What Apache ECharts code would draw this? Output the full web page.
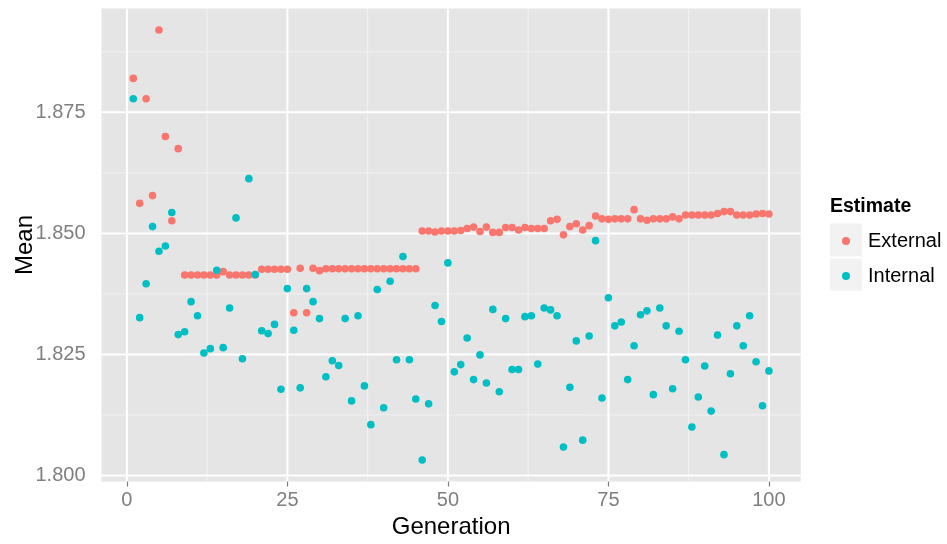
<!DOCTYPE html>
<html>
<head>
<meta charset="utf-8">
<script src="https://cdn.jsdelivr.net/npm/echarts@6/dist/echarts.min.js"></script>
<style>
  html, body { margin: 0; padding: 0; background: #fff; }
  #chart { width: 947px; height: 544px; }
</style>
</head>
<body>
<div id="chart"></div>
<script>
// Generation index for each run
const generation = [
  1, 2, 3, 4, 5, 6, 7, 8, 9, 10, 11, 12, 13, 14, 15, 16, 17, 18, 19, 20,
  21, 22, 23, 24, 25, 26, 27, 28, 29, 30, 31, 32, 33, 34, 35, 36, 37, 38, 39, 40,
  41, 42, 43, 44, 45, 46, 47, 48, 49, 50, 51, 52, 53, 54, 55, 56, 57, 58, 59, 60,
  61, 62, 63, 64, 65, 66, 67, 68, 69, 70, 71, 72, 73, 74, 75, 76, 77, 78, 79, 80,
  81, 82, 83, 84, 85, 86, 87, 88, 89, 90, 91, 92, 93, 94, 95, 96, 97, 98, 99, 100
];

// Mean estimate per generation, external
const externalMean = [
  1.8820, 1.8562, 1.8778, 1.8578, 1.8920, 1.8700, 1.8526, 1.8675, 1.8414, 1.8414,
  1.8414, 1.8414, 1.8414, 1.8414, 1.8421, 1.8414, 1.8414, 1.8414, 1.8414, 1.8414,
  1.8426, 1.8426, 1.8426, 1.8426, 1.8426, 1.8336, 1.8428, 1.8336, 1.8428, 1.8423,
  1.8427, 1.8427, 1.8427, 1.8427, 1.8427, 1.8427, 1.8427, 1.8427, 1.8427, 1.8427,
  1.8427, 1.8427, 1.8427, 1.8427, 1.8427, 1.8505, 1.8505, 1.8503, 1.8505, 1.8505,
  1.8505, 1.8506, 1.8510, 1.8513, 1.8504, 1.8513, 1.8502, 1.8502, 1.8512, 1.8512,
  1.8507, 1.8512, 1.8510, 1.8510, 1.8510, 1.8526, 1.8529, 1.8497, 1.8514, 1.8520,
  1.8507, 1.8516, 1.8536, 1.8530, 1.8529, 1.8530, 1.8530, 1.8530, 1.8549, 1.8530,
  1.8527, 1.8530, 1.8530, 1.8530, 1.8534, 1.8530, 1.8538, 1.8538, 1.8538, 1.8538,
  1.8538, 1.8541, 1.8545, 1.8545, 1.8538, 1.8538, 1.8538, 1.8540, 1.8541, 1.8540
];

// Mean estimate per generation, internal
const internalMean = [
  1.8778, 1.8326, 1.8396, 1.8514, 1.8463, 1.8474, 1.8543, 1.8291, 1.8297, 1.8359,
  1.8330, 1.8253, 1.8262, 1.8424, 1.8264, 1.8346, 1.8532, 1.8241, 1.8613, 1.8415,
  1.8299, 1.8293, 1.8312, 1.8178, 1.8386, 1.8300, 1.8181, 1.8386, 1.8359, 1.8324,
  1.8204, 1.8237, 1.8227, 1.8324, 1.8154, 1.8330, 1.8185, 1.8105, 1.8384, 1.8140,
  1.8401, 1.8239, 1.8452, 1.8239, 1.8158, 1.8032, 1.8148, 1.8351, 1.8318, 1.8439,
  1.8214, 1.8229, 1.8284, 1.8198, 1.8249, 1.8191, 1.8343, 1.8173, 1.8324, 1.8219,
  1.8219, 1.8328, 1.8330, 1.8230, 1.8346, 1.8342, 1.8330, 1.8059, 1.8182, 1.8278,
  1.8073, 1.8288, 1.8485, 1.8160, 1.8367, 1.8309, 1.8317, 1.8198, 1.8268, 1.8332,
  1.8340, 1.8167, 1.8346, 1.8309, 1.8179, 1.8298, 1.8239, 1.8100, 1.8162, 1.8226,
  1.8133, 1.8290, 1.8043, 1.8210, 1.8309, 1.8268, 1.8330, 1.8235, 1.8144, 1.8216
];

// Axis breaks
const xTicks = [0, 25, 50, 75, 100];
const xMinor = [12.5, 37.5, 62.5, 87.5];
const yTicks = [1.800, 1.825, 1.850, 1.875];
const yMinor = [1.8125, 1.8375, 1.8625, 1.8875];

const seriesNames = ['External', 'Internal'];
const seriesColors = ['#F8766D', '#00BFC4'];

// Padded ranges around the data (5% on each side)
const xMin = -3.95, xMax = 104.95;
const yMin = 1.79876, yMax = 1.89644;

const pairs = (ys) => generation.map((g, i) => [g, ys[i]]);

// Panel grid lines: [orientation, value, isMajor]
const gridRows = [].concat(
  yMinor.map(v => ['h', v, 0]),
  xMinor.map(v => ['v', v, 0]),
  yTicks.map(v => ['h', v, 1]),
  xTicks.map(v => ['v', v, 1])
);

function renderGridLine(params, api) {
  const cs = params.coordSys;
  const dir = api.value(0);
  const val = api.value(1);
  const major = api.value(2) === 1;
  let shape;
  if (dir === 'h') {
    const y = api.coord([xMin, val])[1];
    shape = { x1: cs.x, y1: y, x2: cs.x + cs.width, y2: y };
  } else {
    const x = api.coord([val, yMin])[0];
    shape = { x1: x, y1: cs.y, x2: x, y2: cs.y + cs.height };
  }
  return {
    type: 'line',
    shape: shape,
    style: { stroke: major ? '#FFFFFF' : '#F2F2F2', lineWidth: major ? 2 : 1 },
    silent: true
  };
}

const FONT = '"Liberation Sans", Arial, Helvetica, sans-serif';

const chart = echarts.init(document.getElementById('chart'), null, { renderer: 'canvas' });

chart.setOption({
  animation: false,
  backgroundColor: '#FFFFFF',
  textStyle: { fontFamily: FONT },
  grid: {
    left: 101.5, top: 8.5, width: 699.2, height: 473,
    containLabel: false, outerBoundsMode: 'none',
    show: true, backgroundColor: '#E5E5E5', borderWidth: 0
  },
  xAxis: {
    type: 'value', min: xMin, max: xMax,
    name: 'Generation', nameLocation: 'middle', nameGap: 34, nameMoveOverlap: false,
    nameTextStyle: { color: '#000', fontSize: 24, fontFamily: FONT },
    axisLine: { show: false },
    splitLine: { show: false },
    axisTick: { show: true, customValues: xTicks, length: 5, lineStyle: { color: '#7F7F7F', width: 1.2 } },
    axisLabel: { customValues: xTicks, color: '#7F7F7F', fontSize: 20, margin: 9, fontFamily: FONT }
  },
  yAxis: {
    type: 'value', min: yMin, max: yMax,
    name: 'Mean', nameLocation: 'middle', nameGap: 64, nameRotate: 90, nameMoveOverlap: false,
    nameTextStyle: { color: '#000', fontSize: 24, fontFamily: FONT },
    axisLine: { show: false },
    splitLine: { show: false },
    axisTick: { show: true, customValues: yTicks, length: 5, lineStyle: { color: '#7F7F7F', width: 1.2 } },
    axisLabel: {
      customValues: yTicks, color: '#7F7F7F', fontSize: 20, margin: 16, fontFamily: FONT,
      padding: [6, 0, 0, 0],
      formatter: v => v.toFixed(3)
    }
  },
  legend: {
    data: seriesNames,
    orient: 'vertical',
    left: 837, top: 226,
    itemWidth: 34, itemHeight: 8, itemGap: 15,
    icon: 'circle',
    selectedMode: false,
    textStyle: { color: '#000', fontSize: 20, lineHeight: 20, fontFamily: FONT }
  },
  graphic: [
    { type: 'rect', left: 830, top: 223.5, shape: { width: 32, height: 33 }, style: { fill: '#F2F2F2' }, z: -1, silent: true },
    { type: 'rect', left: 830, top: 258.5, shape: { width: 32, height: 32 }, style: { fill: '#F2F2F2' }, z: -1, silent: true },
    { type: 'text', left: 830, top: 196.5, style: { text: 'Estimate', fill: '#000', font: 'bold 19.5px ' + FONT }, silent: true }
  ],
  series: [
    {
      name: 'grid-lines', type: 'custom', z: 1, silent: true,
      renderItem: renderGridLine,
      encode: { x: 1, y: 1 },
      data: gridRows,
      clip: true
    },
    {
      name: seriesNames[0], type: 'scatter', z: 3,
      symbolSize: 7.6, itemStyle: { color: seriesColors[0], opacity: 1 },
      data: pairs(externalMean)
    },
    {
      name: seriesNames[1], type: 'scatter', z: 4,
      symbolSize: 7.6, itemStyle: { color: seriesColors[1], opacity: 1 },
      data: pairs(internalMean)
    }
  ]
});
</script>
</body>
</html>
